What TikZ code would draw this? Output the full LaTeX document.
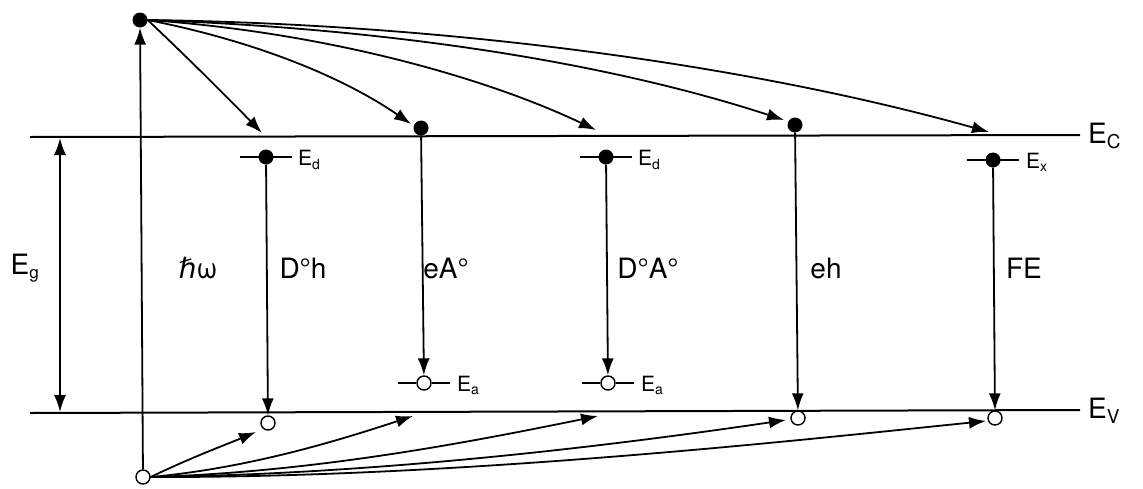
\documentclass[tikz,border=0pt]{standalone}
\usepackage{fontspec}
\setmainfont{TeX Gyre Heros}
\newfontfamily\djv{DejaVu Sans}
\usetikzlibrary{arrows.meta}
\tikzset{
  elec/.style={circle,fill=black,inner sep=0pt,minimum size=15pt},
  hole/.style={circle,draw=black,fill=white,line width=1.4pt,inner sep=0pt,minimum size=14pt},
  arr/.style={line width=1.8pt,-{Latex[length=17pt,width=12pt]}},
  darr/.style={line width=1.8pt,{Latex[length=17pt,width=12pt]}-{Latex[length=17pt,width=12pt]}},
  band/.style={line width=2pt},
  tick/.style={line width=1.7pt},
  biglab/.style={font=\fontsize{28}{32}\selectfont,inner sep=0pt},
  smalllab/.style={font=\fontsize{21}{24}\selectfont,inner sep=0pt,anchor=west},
}
\newcommand{\lvl}[1]{E\textsubscript{\fontsize{14}{14}\selectfont #1}}
\begin{document}
\begin{tikzpicture}[x=1pt,y=-1pt]
\useasboundingbox[fill=white] (0,0) rectangle (1143,488);
% bands
\coordinate (ecL) at (30,137);
\coordinate (ecR) at (1080,135);
\coordinate (evL) at (30,413);
\coordinate (evR) at (1080,410);
\draw[band] (ecL) -- (ecR);
\draw[band] (evL) -- (evR);
\node[biglab,anchor=west] (EC) at (1088,136) {E\textsubscript{\fontsize{19}{19}\selectfont C}};
\node[biglab,anchor=west] (EV) at (1088,411) {E\textsubscript{\fontsize{19}{19}\selectfont V}};
% Eg
\coordinate (egT) at (60,138);
\coordinate (egB) at (60,412);
\draw[darr] (egT) -- (egB);
\node[biglab] (Eg) at (25,268) {E\textsubscript{\fontsize{17}{17}\selectfont g}};
% excitation
\node[elec] (e0) at (140,20) {};
\node[hole] (h0) at (143,477) {};
\draw[arr] (h0) -- (e0);
\node[biglab] (hw) at (198,268) {{\djv ℏ}ω};
% D0h
\node[elec] (dD) at (266,157) {};
\draw[tick] (dD.center) -- ++(-26,0) (dD.center) -- ++(26,0);
\node[smalllab] (EdD) at (298,160) {\lvl{d}};
\node[hole] (hD) at (268,423) {};
\draw[arr] (dD) -- (hD);
\node[biglab] (lD) at (303,268) {D°h};
% eA0
\node[elec] (eA) at (421,128) {};
\node[hole] (aA) at (424,383) {};
\draw[tick] (aA.west) -- ++(-18,0) (aA.east) -- ++(18,0);
\node[smalllab] (EaA) at (457,385) {\lvl{a}};
\draw[arr] (eA) -- (aA);
\node[biglab] (lA) at (446,268) {eA°};
% D0A0
\node[elec] (dDA) at (606,157) {};
\draw[tick] (dDA.center) -- ++(-26,0) (dDA.center) -- ++(26,0);
\node[smalllab] (EdDA) at (638,160) {\lvl{d}};
\node[hole] (aDA) at (608,383) {};
\draw[tick] (aDA.west) -- ++(-18,0) (aDA.east) -- ++(18,0);
\node[smalllab] (EaDA) at (641,385) {\lvl{a}};
\draw[arr] (dDA) -- (aDA);
\node[biglab] (lDA) at (648,268) {D°A°};
% eh
\node[elec] (eE) at (795,125) {};
\node[hole] (hE) at (798,418) {};
\draw[arr] (eE) -- (hE);
\node[biglab] (lE) at (826,268) {eh};
% FE
\node[elec] (xF) at (993,160) {};
\draw[tick] (xF.center) -- ++(-26,0) (xF.center) -- ++(26,0);
\node[smalllab] (ExF) at (1026,162) {\lvl{x}};
\node[hole] (hF) at (995,418) {};
\draw[arr] (xF) -- (hF);
\node[biglab] (lF) at (1024,268) {FE};
% top relaxation arrows
\coordinate (t1) at (262,133);
\coordinate (t2) at (411,124);
\coordinate (t3) at (596,130);
\coordinate (t4) at (784,120);
\coordinate (t5) at (989,132);
\draw[arr] (e0.east) .. controls (190,60) and (230,100) .. (t1);
\draw[arr] (e0.east) .. controls (250,40) and (340,75) .. (t2);
\draw[arr] (e0.east) .. controls (320,32) and (480,75) .. (t3);
\draw[arr] (e0.east) .. controls (380,28) and (600,60) .. (t4);
\draw[arr] (e0.east) .. controls (450,24) and (750,65) .. (t5);
% bottom relaxation arrows
\coordinate (b1) at (256,432);
\coordinate (b2) at (413,416);
\coordinate (b3) at (598,416);
\coordinate (b4) at (786,420);
\coordinate (b5) at (986,421);
\draw[arr] (h0.east) .. controls (190,458) and (225,445) .. (b1);
\draw[arr] (h0.east) .. controls (250,468) and (340,440) .. (b2);
\draw[arr] (h0.east) .. controls (320,472) and (480,440) .. (b3);
\draw[arr] (h0.east) .. controls (400,474) and (650,440) .. (b4);
\draw[arr] (h0.east) .. controls (460,478) and (800,440) .. (b5);
\end{tikzpicture}
\end{document}
